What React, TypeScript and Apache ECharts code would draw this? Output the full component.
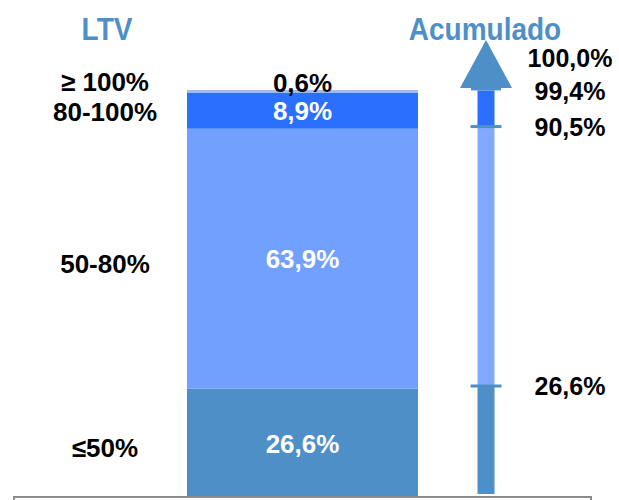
import React, { useEffect, useRef } from "react";
import * as echarts from "echarts";

const categories = ["≤50%", "50-80%", "80-100%", "≥ 100%"];
const shares = [26.6, 63.9, 8.9, 0.6];
const cumulative = [26.6, 90.5, 99.4, 100.0];
const shareColors = ["#4f8fc8", "#72a0ff", "#2b6fff", "#a9bce0"];
const shaftColors = ["#4f8fc8", "#80aaff", "#2b6fff", "#4f8fc8"];
const titles = ["LTV", "Acumulado"];

const FONT = '"Liberation Sans", Arial, Helvetica, sans-serif';
const fmt = (v: number) => v.toFixed(1).replace(".", ",") + "%";

export default function App() {
  const ref = useRef<HTMLDivElement>(null);
  useEffect(() => {
    document.body.style.margin = "0";
    const chart = echarts.init(ref.current!, null, { renderer: "svg" });

    // left-category label positions: midpoints of each segment
    const mids = shares.map((s, i) => {
      const start = i === 0 ? 0 : cumulative[i - 1];
      return start + s / 2;
    });
    const leftOffsets = [5, 5, 1, -9];
    const cumOffsets = [0, 0, 1, -30];

    const barSeries = shares.map((s, i) => ({
      type: "bar",
      name: categories[i],
      xAxisIndex: 0,
      yAxisIndex: 0,
      stack: "ltv",
      barWidth: "100%",
      barCategoryGap: 0,
      data: [s],
      itemStyle: { color: shareColors[i] },
      label: {
        show: true,
        position: i === 3 ? "top" : "inside",
        distance: i === 3 ? -6 : 0,
        offset: i === 0 ? [0, 1] : [0, 0],
        formatter: () => fmt(s),
        color: i === 3 ? "#000" : "#fff",
        fontFamily: FONT,
        fontWeight: "bold",
        fontSize: 26,
      },
    }));

    const arrowData = cumulative.map((c, i) => [0, i === 0 ? 0 : cumulative[i - 1], c, i]);

    const textLabel = (size: number) => ({
      show: true,
      position: "inside",
      color: "#000",
      opacity: 1,
      fontFamily: FONT,
      fontWeight: "bold",
      fontSize: size,
    });

    chart.setOption({
      animation: false,
      grid: [
        { left: 187, width: 231, top: 90, bottom: 3 },
        { left: 460, width: 52, top: 88, bottom: 6 },
        { left: 20, width: 170, top: 90, bottom: 3 },
      ],
      xAxis: [0, 1, 2].map((g) => ({ type: "category", gridIndex: g, data: [""], show: false })),
      yAxis: [0, 1, 2].map((g) => ({ type: "value", gridIndex: g, min: 0, max: 100, show: false })),
      graphic: [
        {
          type: "text",
          x: 107,
          y: 29,
          scaleY: 1.1,
          style: { text: titles[0], fill: "#4f8fc8", font: `bold 28px ${FONT}`, align: "center", verticalAlign: "middle" },
        },
        {
          type: "text",
          x: 485,
          y: 29,
          scaleY: 1.1,
          style: { text: titles[1], fill: "#4f8fc8", font: `bold 28px ${FONT}`, align: "center", verticalAlign: "middle" },
        },
        {
          type: "rect",
          z: 100,
          shape: { x: 14, y: 497, width: 577, height: 30 },
          style: { fill: "none", stroke: "#8c8c8c", lineWidth: 2 },
        },
      ],
      series: [
        ...barSeries,
        {
          type: "custom",
          xAxisIndex: 1,
          yAxisIndex: 1,
          data: arrowData,
          renderItem: (params: any, api: any) => {
            const start = api.value(1);
            const end = api.value(2);
            const idx = api.value(3);
            const p0 = api.coord([0, start]);
            const p1 = api.coord([0, end]);
            const cx = p0[0];
            const w = idx === 3 ? 30 : 17;
            const children: any[] = [
              {
                type: "rect",
                shape: { x: cx - w / 2, y: p1[1], width: w, height: p0[1] - p1[1] },
                style: { fill: shaftColors[idx] },
              },
            ];
            if (idx === 0 || idx === 1) {
              children.push({
                type: "rect",
                z2: 10,
                shape: { x: cx - 15.5, y: p1[1] - 1.5, width: 31, height: 3 },
                style: { fill: "#4f8fc8" },
              });
            }
            if (idx === 3) {
              children.push({
                type: "polygon",
                shape: {
                  points: [
                    [cx - 26, p1[1]],
                    [cx + 26, p1[1]],
                    [cx, p1[1] - 48],
                  ],
                },
                style: { fill: "#4f8fc8" },
              });
            }
            return { type: "group", children };
          },
        },
        {
          type: "scatter",
          xAxisIndex: 1,
          yAxisIndex: 1,
          symbolSize: 0,
          itemStyle: { opacity: 1 },
          data: cumulative.map((c, i) => ({
            value: [0, c],
            label: { offset: [84, cumOffsets[i]] },
          })),
          label: { ...textLabel(25), formatter: (p: any) => fmt(p.value[1]) },
        },
        {
          type: "scatter",
          xAxisIndex: 2,
          yAxisIndex: 2,
          symbolSize: 0,
          itemStyle: { opacity: 1 },
          data: mids.map((m, i) => ({
            value: [0, m],
            name: categories[i],
            label: { offset: [0, leftOffsets[i]] },
          })),
          label: { ...textLabel(26), formatter: (p: any) => p.name },
        },
      ],
    });
    return () => chart.dispose();
  }, []);
  return <div ref={ref} style={{ width: 619, height: 500 }} />;
}
